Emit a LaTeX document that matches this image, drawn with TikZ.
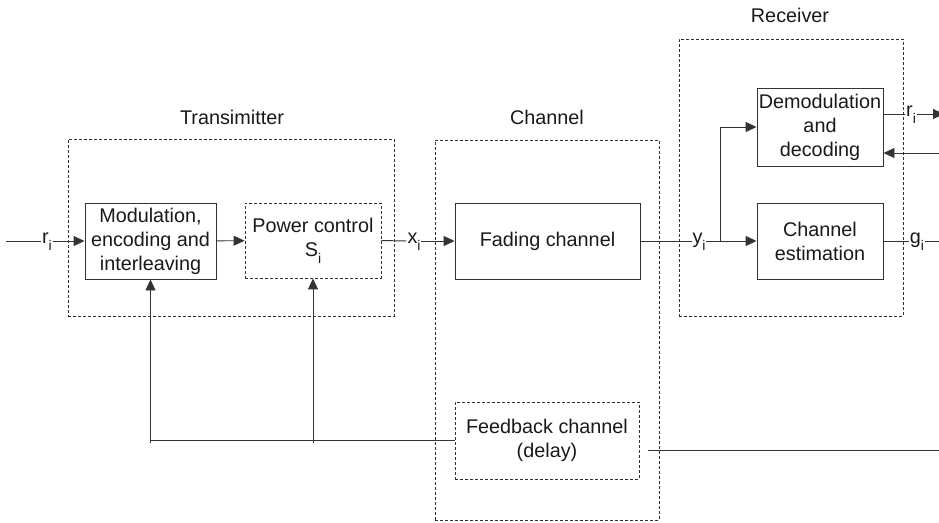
\documentclass[tikz,border=0pt]{standalone}
\usepackage{fontspec}
\setmainfont{Liberation Sans}
\usetikzlibrary{arrows.meta}
\newcommand\subtxt[1]{\raisebox{-7pt}{\fontsize{14}{14}\selectfont #1}}
\definecolor{ink}{gray}{0.1}
\definecolor{wire}{gray}{0.2}
\tikzset{
  base/.style={font=\fontsize{19.8}{24}\selectfont, text=ink},
  block/.style={base, draw=wire, line width=0.95pt, inner sep=0pt, align=center},
  dashblock/.style={block, dash pattern=on 3pt off 2pt, line width=0.9pt},
  group/.style={draw=wire, dash pattern=on 3pt off 2pt, line width=0.9pt, inner sep=0pt},
  title/.style={base},
  lab/.style={base, inner sep=0.6pt, anchor=mid},
  wireline/.style={draw=wire, line width=0.95pt},
  arr/.style={wireline, -{Triangle[length=11pt,width=10pt]}},
}
\begin{document}
\begin{tikzpicture}[x=1pt, y=-1pt]
  \useasboundingbox (0,0) rectangle (939,522);

  % group frames
  \node[group, minimum width=326pt, minimum height=177pt] (tx) at (231,227.5) {};
  \node[group, minimum width=224pt, minimum height=380pt] (ch) at (547,330) {};
  \node[group, minimum width=224pt, minimum height=277pt] (rx) at (791,177.5) {};

  % group titles
  \node[title] (txt) at (232,117) {Transimitter};
  \node[title] (cht) at (547,117) {Channel};
  \node[title] (rxt) at (790,15) {Receiver};

  % blocks
  \node[block, minimum width=131pt, minimum height=76pt] (mod) at (150.5,241)
    {Modulation,\\encoding and\\interleaving};
  \node[dashblock, minimum width=136pt, minimum height=75pt] (pc) at (313,240.5)
    {Power control\\S\subtxt{i}};
  \node[block, minimum width=185pt, minimum height=76pt] (fad) at (547.5,241)
    {Fading channel};
  \node[block, minimum width=126pt, minimum height=78pt] (dem) at (820,127)
    {Demodulation\\and\\decoding};
  \node[block, minimum width=126pt, minimum height=76pt] (est) at (820,241)
    {Channel\\estimation};
  \node[dashblock, minimum width=184pt, minimum height=77pt] (fb) at (547,440.5)
    {Feedback channel\\(delay)};

  % signal labels
  \node[lab] (ri) at (47,241) {r\subtxt{i}};
  \node[lab] (xi) at (414,241) {x\subtxt{i}};
  \node[lab] (yi) at (699,241) {y\subtxt{i}};
  \node[lab] (ro) at (911,114) {r\subtxt{i}};
  \node[lab] (gi) at (917,241) {g\subtxt{i}};

  % free ends and junctions
  \coordinate (in)   at (6,241);
  \coordinate (jn)   at (720,241);
  \coordinate (rout) at (944,114);
  \coordinate (fbin) at (945,153);
  \coordinate (gout) at (945,241);
  \coordinate (fbo)  at (648,450);
  \coordinate (fbe)  at (945,450);
  \coordinate (t1)   at (150.5,443);
  \coordinate (t2)   at (313,443);

  % forward path
  \draw[wireline] (in) -- (ri.mid west);
  \draw[arr] (ri.mid east) -- (mod.west);
  \draw[arr] (mod) -- (pc);
  \draw[wireline] (pc.east) -- (xi.mid west);
  \draw[arr] (xi.mid east) -- (fad.west);
  \draw[wireline] (fad.east) -- (yi.mid west);
  \draw[arr] (yi.mid east) -- (est.west);
  \draw[arr] (jn) |- (dem.west);
  \draw[wireline] (dem.east |- ro.mid west) -- (ro.mid west);
  \draw[arr] (ro.mid east) -- (rout);
  \draw[arr] (fbin) -- (dem.east |- fbin);
  \draw[wireline] (est.east) -- (gi.mid west);
  \draw[wireline] (gi.mid east) -- (gout);

  % feedback path
  \draw[wireline] (fbo) -- (fbe);
  \draw[wireline] (fb.west) -- (fb.west -| t1);
  \draw[arr] (t1) -- (mod.south);
  \draw[arr] (t2) -- (pc.south);
\end{tikzpicture}
\end{document}
